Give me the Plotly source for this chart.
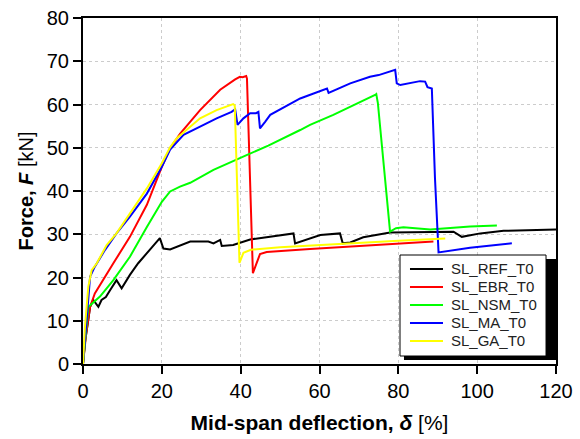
import plotly.graph_objects as go

# ---- data ----
ref_d = [0, 0.5, 1.3, 1.8, 2.6, 3.2, 3.9, 4.7, 5.8, 6.9, 8.5, 9.8, 11.9, 14.0, 16.2, 19.5, 20.4, 22.1,
         27.2, 31.8, 33.1, 34.8, 35.2, 38.1, 42.4, 48.0, 53.4, 53.8, 56.8, 60.2, 65.2, 65.9, 67.8, 71.1,
         77.9, 88.1, 94.0, 96.1, 100.8, 106.7, 113.5, 120]
ref_f = [0, 5, 10, 13.2, 14.8, 14.0, 13.2, 14.8, 15.5, 17.1, 19.4, 17.5, 20.6, 23.3, 25.6, 29.1, 26.7, 26.5,
         28.3, 28.3, 27.9, 28.7, 27.3, 27.5, 28.8, 29.5, 30.2, 27.9, 28.8, 29.8, 30.2, 27.9, 28.1, 29.3,
         30.4, 30.6, 30.6, 29.4, 30.2, 30.8, 31.0, 31.1]

ebr_d = [0, 0.8, 1.8, 3.0, 7.7, 11.9, 16.2, 20.0, 22.1, 24.6, 29.7, 34.8, 38.6, 39.8, 40.5, 41.4, 41.6,
         43.1, 44.9, 46.6, 57.6, 67.8, 88.9]
ebr_f = [0, 7, 13.2, 16.3, 23.3, 29.4, 36.8, 45.6, 49.9, 53.2, 58.7, 63.4, 65.8, 66.4, 66.3, 66.6, 66.0,
         21.0, 25.4, 25.9, 26.6, 27.1, 28.3]

nsm_d = [0, 0.7, 1.35, 2.6, 4.3, 7.7, 11.9, 16.2, 20.0, 22.1, 24.6, 27.2, 33.1, 41.5, 47.0, 55.1, 57.6,
         63.5, 68.0, 74.1, 74.4, 74.8, 77.9, 79.4, 81.3, 84.7, 88.1, 98.2, 105.0]
nsm_f = [0, 7, 13.2, 14.2, 15.6, 19.4, 24.8, 31.7, 37.5, 39.9, 41.0, 41.9, 44.9, 48.3, 50.5, 54.1, 55.3,
         57.6, 59.5, 62.2, 62.4, 60.4, 30.6, 31.4, 31.6, 31.3, 31.1, 31.8, 32.0]

ma_d = [0, 0.9, 1.8, 3.0, 5.6, 8.5, 11.9, 16.2, 20.0, 22.1, 25.5, 29.7, 33.9, 37.7, 38.6, 39.2, 40.7,
        42.4, 43.9, 44.5, 44.9, 46.2, 47.5, 55.1, 61.9, 62.3, 67.8, 72.8, 75.0, 79.2, 79.6, 80.5, 85.5,
        86.8, 87.4, 88.5, 89.3, 90.2, 98.2, 108.8]
ma_f = [0, 10.2, 20.2, 22.5, 26.4, 30.2, 34.1, 39.4, 45.6, 49.6, 53.0, 54.9, 56.8, 58.3, 58.9, 55.3, 56.8,
        58.0, 58.0, 58.3, 54.5, 56.0, 57.6, 61.4, 63.7, 62.7, 64.9, 66.4, 66.8, 68.0, 64.9, 64.5, 65.4,
        65.3, 64.0, 63.7, 42.9, 25.8, 26.9, 27.9]

ga_d = [0, 0.5, 1.35, 2.2, 3.5, 6.0, 8.5, 11.9, 16.2, 20.0, 22.1, 23.8, 29.7, 33.9, 38.1, 38.5, 39.7,
        40.7, 42.6, 50.0, 57.6, 67.8, 80.0, 91.9]
ga_f = [0, 8.6, 17.9, 21.7, 23.3, 27.5, 30.2, 34.8, 40.6, 46.4, 50.1, 52.2, 56.8, 58.7, 60.1, 59.8, 23.4,
        25.7, 26.4, 27.0, 27.4, 27.9, 28.5, 29.0]

series_names = ["SL_REF_T0", "SL_EBR_T0", "SL_NSM_T0", "SL_MA_T0", "SL_GA_T0"]
series_colors = ["#000000", "#ff0000", "#00ff00", "#0000ff", "#ffff00"]
series_x = [ref_d, ebr_d, nsm_d, ma_d, ga_d]
series_y = [ref_f, ebr_f, nsm_f, ma_f, ga_f]

x_ticks = [0, 20, 40, 60, 80, 100, 120]
y_ticks = [0, 10, 20, 30, 40, 50, 60, 70, 80]

FONT = "Arial, Liberation Sans, sans-serif"

fig = go.Figure()
for name, col, xs, ys in zip(series_names, series_colors, series_x, series_y):
    fig.add_trace(go.Scatter(x=xs, y=ys, mode="lines", name=name,
                             line=dict(color=col, width=2)))

axis_common = dict(showline=True, linecolor="black", linewidth=2, mirror=True, automargin=False,
                   ticks="outside", ticklen=8, tickwidth=1.5, tickcolor="black",
                   showgrid=True, gridcolor="#cccccc", griddash="dot", gridwidth=1,
                   zeroline=False, tickfont=dict(family=FONT, size=20, color="black"))

fig.update_xaxes(range=[0, 120], tickvals=x_ticks, ticktext=[str(v) for v in x_ticks],
                 title=dict(text="<b>Mid-span deflection, <i>δ</i></b> [%]",
                            font=dict(family=FONT, size=21, color="black"), standoff=14),
                 **axis_common)
fig.update_yaxes(range=[0, 80], tickvals=y_ticks, ticktext=[str(v) for v in y_ticks],
                 title=dict(text="<b>Force, <i>F</i></b> [kN]",
                            font=dict(family=FONT, size=20, color="black"), standoff=8),
                 **axis_common)

# ---- legend box with drop shadow (paper coordinates) ----
fig.add_shape(type="rect", xref="paper", yref="paper", x0=0.6786, x1=1.0, y0=0.0116, y1=0.3035,
              fillcolor="black", line=dict(width=0), layer="above")
fig.add_shape(type="rect", xref="paper", yref="paper", x0=0.6702, x1=0.9789, y0=0.0231, y1=0.3150,
              fillcolor="white", line=dict(color="black", width=1), layer="above")
leg_top = 0.2746
leg_step = 0.0520
for i, (name, col) in enumerate(zip(series_names, series_colors)):
    yy = leg_top - i * leg_step
    fig.add_shape(type="line", xref="paper", yref="paper", x0=0.6913, x1=0.7611, y0=yy, y1=yy,
                  line=dict(color=col, width=2), layer="above")
    fig.add_annotation(xref="paper", yref="paper", x=0.7738, y=yy, xanchor="left", yanchor="middle",
                       text=name, showarrow=False,
                       font=dict(family=FONT, size=15, color="#222222"))

fig.update_layout(
    width=580, height=439,
    margin=dict(l=83, r=24, t=18, b=75),
    plot_bgcolor="white", paper_bgcolor="white",
    font=dict(family=FONT, color="black"),
    showlegend=False,
)

fig.write_html("out.html", post_script="document.body.style.margin='0';",
               config={"displayModeBar": False})
